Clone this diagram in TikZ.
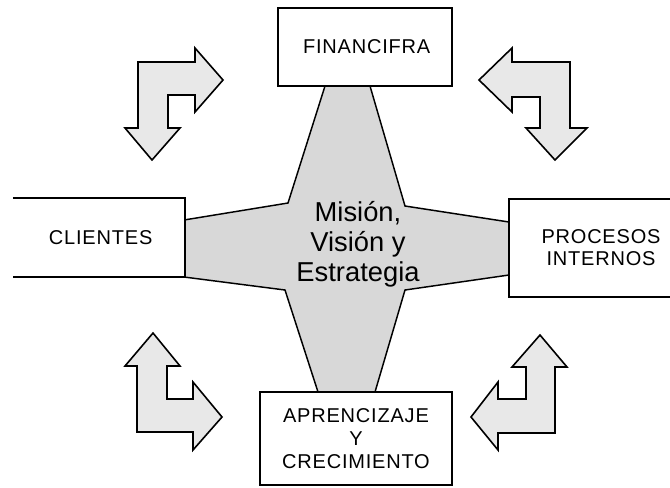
\documentclass[tikz,border=0pt]{standalone}
\usepackage{fontspec}
\setmainfont{Liberation Sans}
\newfontfamily\labelfont[LetterSpace=4]{Liberation Sans}
\definecolor{starfill}{RGB}{216,216,216}
\definecolor{arrowfill}{RGB}{232,232,232}
\tikzset{
  box/.style={draw=black, line width=1.6pt, fill=white, inner sep=0pt, align=center,
    font=\labelfont\fontsize{15}{16.5}\selectfont},
  openbox/.style={box, draw=none},
  bigarrow/.style={draw=black, line width=1.2pt, fill=arrowfill, line join=miter},
  starshape/.style={draw=black, line width=1.1pt, fill=starfill, line join=miter},
  centertext/.style={align=center, font=\fontsize{20.5}{22.5}\selectfont, inner sep=0pt}
}
\begin{document}
\begin{tikzpicture}[x=0.75pt, y=-0.75pt]
\useasboundingbox[fill=white] (0,0) rectangle (670,487);

% central star
\draw[starshape] (325,86) -- (288,203) -- (184,220) -- (184,277) -- (285,290)
  -- (318,392) -- (375,392) -- (405,290) -- (509,275) -- (509,222)
  -- (405,206) -- (370,86) -- cycle;
\node[centertext] (mvision) at (358,244) {Misión,\\Visión y\\Estrategia};

% boxes
\node[box, minimum width=174*0.75pt, minimum height=78*0.75pt] (fin) at (365,47) {\,FINANCIFRA};
\node[openbox, minimum width=170*0.75pt, minimum height=77*0.75pt] (cli) at (99,237.5) {\,CLIENTES};
\draw[line width=1.6pt] (cli.north west) -- (cli.north east) -- (cli.south east) -- (cli.south west);
\node[box, minimum width=184*0.75pt, minimum height=98*0.75pt] (proc) at (601,248) {PROCESOS\\INTERNOS};
\node[box, minimum width=192*0.75pt, minimum height=93*0.75pt, font=\labelfont\fontsize{15}{17.5}\selectfont] (apr) at (356,438.5) {APRENCIZAJE\\Y\\CRECIMIENTO};

% corner arrows
\draw[bigarrow] (138,62) -- (195,62) -- (195,48) -- (223,80) -- (195,112) -- (195,95)
  -- (168,95) -- (168,128) -- (180,128) -- (152,160) -- (125,128) -- (138,128) -- cycle;
\draw[bigarrow] (570,62) -- (512,62) -- (512,48) -- (479,80) -- (512,112) -- (512,97)
  -- (540,97) -- (540,128) -- (526,128) -- (555,160) -- (587,128) -- (570,128) -- cycle;
\draw[bigarrow] (153,333) -- (180,366) -- (167,366) -- (167,399) -- (193,399) -- (193,382)
  -- (222,417) -- (193,450) -- (193,432) -- (137,432) -- (137,366) -- (125,366) -- cycle;
\draw[bigarrow] (540,335) -- (567,367) -- (555,367) -- (555,433) -- (498,433) -- (498,450)
  -- (471,417) -- (498,382) -- (498,399) -- (526,399) -- (526,367) -- (512,367) -- cycle;
\end{tikzpicture}
\end{document}
